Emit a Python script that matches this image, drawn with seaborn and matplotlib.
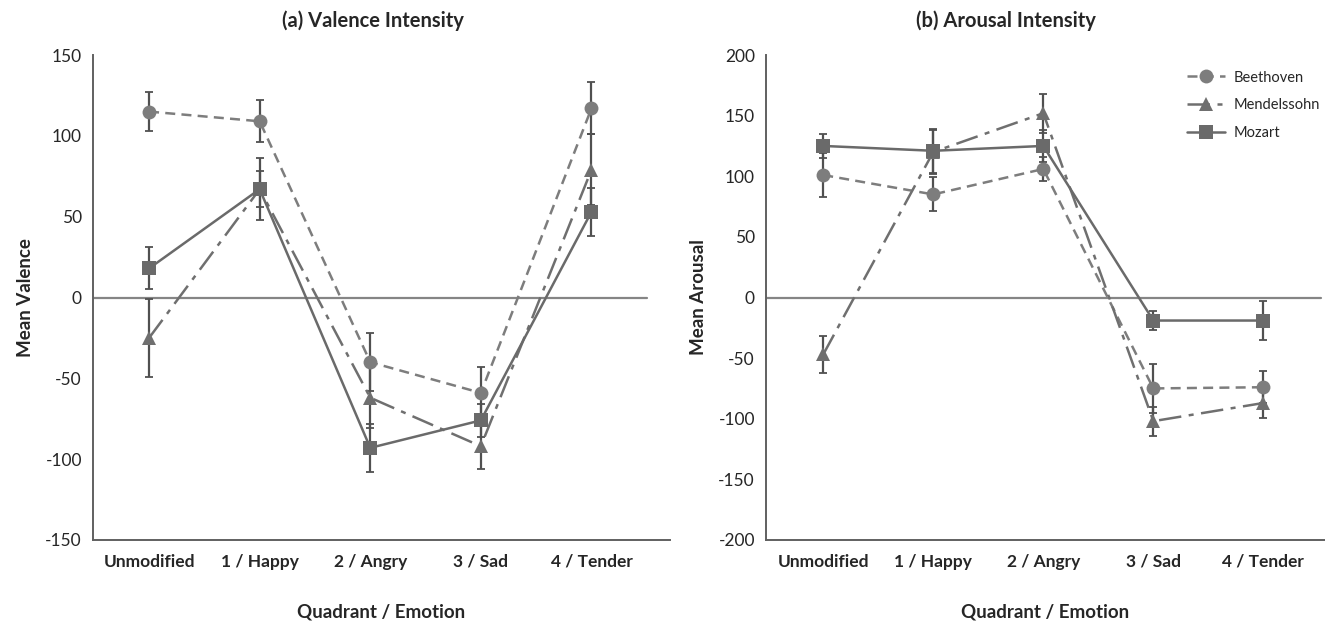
import numpy as np
import pandas as pd
import seaborn as sns
import matplotlib.pyplot as plt

categories = ["Unmodified", "1 / Happy", "2 / Angry", "3 / Sad", "4 / Tender"]
composers = ["Beethoven", "Mendelssohn", "Mozart"]

# (a) valence: means and error bar half-widths
val_beethoven = [115, 109, -40, -59, 117]
val_mendelssohn = [-25, 67, -62, -92, 79]
val_mozart = [18, 67, -93, -76, 53]
val_err_beethoven = [12, 13, 18, 16, 16]
val_err_mendelssohn = [24, 11, 19, 14, 22]
val_err_mozart = [13, 19, 15, 10, 15]

# (b) arousal
aro_beethoven = [101, 85, 106, -75, -74]
aro_mendelssohn = [-47, 120, 152, -102, -87]
aro_mozart = [125, 121, 125, -19, -19]
aro_err_beethoven = [18, 14, 10, 20, 13]
aro_err_mendelssohn = [15, 18, 16, 12, 12]
aro_err_mozart = [10, 18, 13, 8, 16]

sns.set_theme(style="white")
plt.rcParams['font.family'] = ['Lato', 'DejaVu Sans']


def make_df(b, m, z, eb, em, ez):
    rows = []
    for name, vals, errs in zip(composers, [b, m, z], [eb, em, ez]):
        for i, (c, v, e) in enumerate(zip(categories, vals, errs)):
            rows.append({"pos": i, "cat": c, "composer": name, "value": v, "err": e})
    return pd.DataFrame(rows)


df_val = make_df(val_beethoven, val_mendelssohn, val_mozart,
                 val_err_beethoven, val_err_mendelssohn, val_err_mozart)
df_aro = make_df(aro_beethoven, aro_mendelssohn, aro_mozart,
                 aro_err_beethoven, aro_err_mendelssohn, aro_err_mozart)

markers = {"Beethoven": "o", "Mendelssohn": "^", "Mozart": "s"}
dashes = {"Beethoven": (4, 2.5), "Mendelssohn": (9, 3, 2, 3), "Mozart": ""}
palette = {"Beethoven": "#7d7d7d", "Mendelssohn": "#6f6f6f", "Mozart": "#6a6a6a"}

fig = plt.figure(figsize=(13.25, 6.24), dpi=100)
ax1 = fig.add_axes([93 / 1325, 84 / 624, (670 - 93) / 1325, 485 / 624])
ax2 = fig.add_axes([766 / 1325, 84 / 624, (1325 - 766) / 1325, 485 / 624])


def draw(ax, df, ylim, ylabel, title, xlim, zero_end):
    sns.lineplot(data=df, x="pos", y="value", hue="composer", style="composer",
                 markers=markers, dashes=dashes, palette=palette, markersize=10,
                 linewidth=1.8, markeredgewidth=0, ax=ax, legend=True, sort=False)
    for name in composers:
        d = df[df.composer == name]
        ax.errorbar(d.pos, d.value, yerr=d.err, fmt="none", ecolor="#505050",
                    elinewidth=1.6, capsize=3, capthick=1.3, zorder=1)
    ax.plot([xlim[0], zero_end], [0, 0], color="#858585", lw=1.6, zorder=0)
    ax.set_xlim(*xlim)
    ax.set_ylim(*ylim)
    ticks = np.arange(ylim[0], ylim[1] + 1, 50)
    ax.set_yticks(ticks)
    ax.set_yticklabels([str(int(v)) for v in ticks], fontsize=12.5)
    ax.set_xticks(range(len(categories)))
    ax.set_xticklabels(categories, fontsize=12.5, fontweight="bold")
    ax.tick_params(axis="x", length=0, pad=10)
    ax.tick_params(axis="y", length=4, width=1, color="#707070", direction="out", pad=4)
    ax.set_xticks([0.5, 1.5, 2.5, 3.5, xlim[1]], minor=True)
    ax.tick_params(axis="x", which="minor", length=4, width=1, color="#707070",
                   direction="out")
    for s in ["top", "right"]:
        ax.spines[s].set_visible(False)
    for s in ["left", "bottom"]:
        ax.spines[s].set_color("#606060")
        ax.spines[s].set_linewidth(1.4)
    ax.set_xlabel("Quadrant / Emotion", fontsize=13.5, fontweight="bold", labelpad=24)
    ax.set_ylabel(ylabel, fontsize=13.5, fontweight="bold", labelpad=8)
    ax.set_title(title, fontsize=14.5, fontweight="bold", pad=20)
    ax.grid(False)


draw(ax1, df_val, (-150, 150), "Mean Valence", "(a) Valence Intensity",
     (-0.507, 4.71), 4.5)
draw(ax2, df_aro, (-200, 200), "Mean Arousal", "(b) Arousal Intensity",
     (-0.52, 4.56), 4.52)

ax1.get_legend().remove()
handles, labels = ax2.get_legend_handles_labels()
ax2.get_legend().remove()
ax2.legend(handles, labels, loc="upper left", bbox_to_anchor=(0.73, 0.995),
           frameon=False, fontsize=10.5, handlelength=2.6, labelspacing=0.95,
           handletextpad=0.6)

ax1.title.set_position((0.485, 1.0))
ax2.title.set_position((0.43, 1.0))

fig.savefig("out.png", dpi=100)
